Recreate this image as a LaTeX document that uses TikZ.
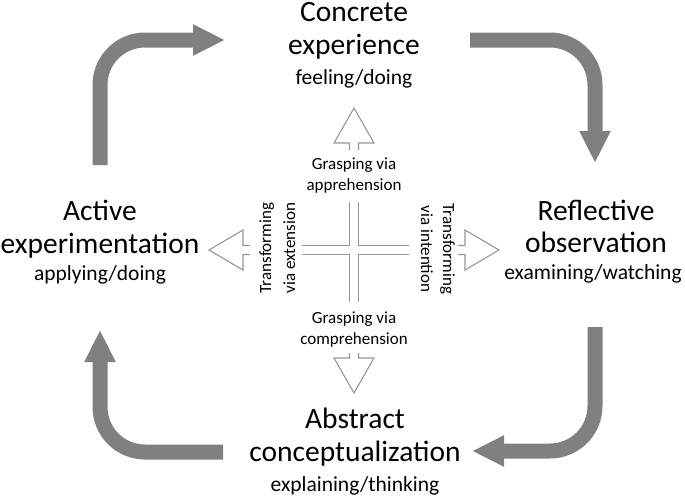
\documentclass[tikz,border=0pt]{standalone}
\usepackage{fontspec}
\setmainfont{Carlito}
\usetikzlibrary{arrows.meta}
\definecolor{cyclegray}{RGB}{128,128,128}
\definecolor{crossgray}{RGB}{150,150,150}
\tikzset{
  big/.style={font=\fontsize{29.5}{34}\selectfont, anchor=base, inner sep=0pt},
  small/.style={font=\fontsize{21.5}{25}\selectfont, anchor=base, inner sep=0pt},
  mid/.style={font=\fontsize{17}{20}\selectfont, anchor=base, inner sep=0pt},
  cyclearrow/.style={draw=cyclegray, line width=15pt, rounded corners=45pt,
    -{Triangle[width=29pt,length=32pt]}},
  hollow/.style={draw=crossgray, line width=1.1pt, line join=miter},
}
\begin{document}
\begin{tikzpicture}[x=1pt, y=-1pt]
\useasboundingbox (0,0) rectangle (685,498);
% main labels
\node[big] (ce1) at (354,21.5) {Concrete};
\node[big] (ce2) at (354,54) {experience};
\node[small] (ce3) at (354,84) {feeling/doing};
\node[big] (ae1) at (100,220) {Active};
\node[big] (ae2) at (100,253) {experimentation};
\node[small] (ae3) at (100,280) {applying/doing};
\node[big] (ro1) at (596,220) {Reflective};
\node[big] (ro2) at (596,252) {observation};
\node[small] (ro3) at (593,279) {examining/watching};
\node[big] (ac1) at (355,428) {Abstract};
\node[big] (ac2) at (355,461) {conceptualization};
\node[small] (ac3) at (355,491) {explaining/thinking};
% cycle arrows
\coordinate (a1s) at (100,165); \coordinate (a1e) at (225,40);
\coordinate (a2s) at (470,40);  \coordinate (a2e) at (595,163);
\coordinate (a3s) at (595,327); \coordinate (a3e) at (472,451);
\coordinate (a4s) at (223,452); \coordinate (a4e) at (100,330);
\draw[cyclearrow] (a1s) |- (a1e);
\draw[cyclearrow] (a2s) -| (a2e);
\draw[cyclearrow] (a3s) |- (a3e);
\draw[cyclearrow] (a4s) -| (a4e);
% central texts
\node[mid] (ga1) at (354,169) {Grasping via};
\node[mid] (ga2) at (354,190) {apprehension};
\node[mid] (gc1) at (354,323) {Grasping via};
\node[mid] (gc2) at (354,344) {comprehension};
\node[mid, rotate=90] (te1) at (271,248) {Transforming};
\node[mid, rotate=90] (te2) at (295,248) {via extension};
\node[mid, rotate=-90] (ti1) at (443,249) {Transforming};
\node[mid, rotate=-90] (ti2) at (421,249) {via intention};
% central cross
\draw[hollow] (349.5,150) -- (349.5,143) -- (334,143) -- (354,108) -- (374,143) -- (358.5,143) -- (358.5,150);
\draw[hollow] (349.5,353) -- (349.5,358) -- (334,358) -- (354,393) -- (374,358) -- (358.5,358) -- (358.5,353);
\draw[hollow] (250,245.5) -- (243,245.5) -- (243,230) -- (209,250) -- (243,270) -- (243,254.5) -- (250,254.5);
\draw[hollow] (458,245.5) -- (465,245.5) -- (465,230) -- (499,250) -- (465,270) -- (465,254.5) -- (458,254.5);
\draw[hollow] (349.5,202) -- (349.5,245.5) -- (302,245.5);
\draw[hollow] (358.5,202) -- (358.5,245.5) -- (409,245.5);
\draw[hollow] (302,254.5) -- (349.5,254.5) -- (349.5,302);
\draw[hollow] (409,254.5) -- (358.5,254.5) -- (358.5,302);
\end{tikzpicture}
\end{document}
